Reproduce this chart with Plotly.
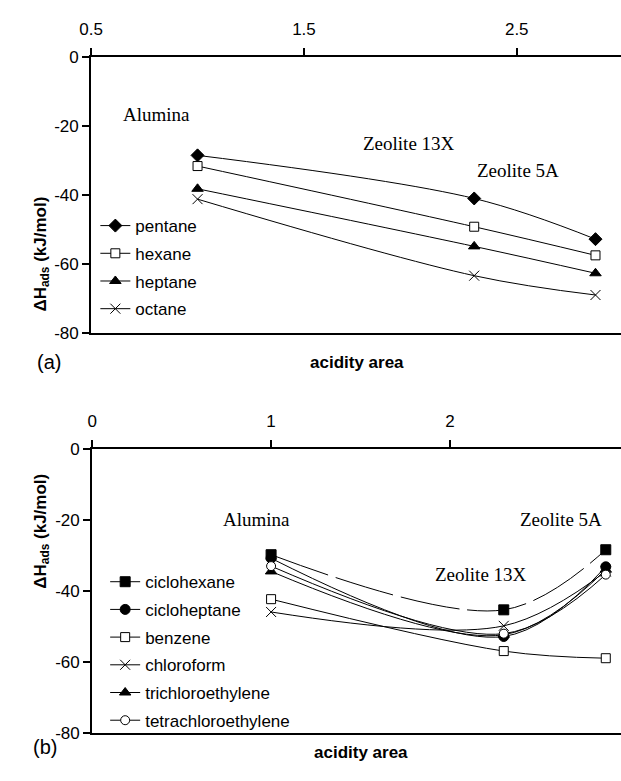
import plotly.graph_objects as go

W, H = 621, 781

# ---------------- data ----------------
sites = ["Alumina", "Zeolite 13X", "Zeolite 5A"]
acidity_a = [1.0, 2.30, 2.87]
acidity_b = [1.0, 2.30, 2.87]

names_a = ["pentane", "hexane", "heptane", "octane"]
pentane = [-28.5, -41.0, -52.8]
hexane = [-31.6, -49.2, -57.5]
heptane = [-38.2, -54.9, -62.7]
octane = [-41.2, -63.4, -69.0]

names_b = ["ciclohexane", "cicloheptane", "benzene", "chloroform",
           "trichloroethylene", "tetrachloroethylene"]
ciclohexane = [-29.8, -45.3, -28.4]
cicloheptane = [-30.8, -52.8, -33.2]
benzene = [-42.3, -56.9, -58.9]
chloroform = [-45.9, -49.8, -34.5]
trichloroethylene = [-34.5, -52.3, -34.0]
tetrachloroethylene = [-33.0, -52.0, -35.4]

y_ticks = [0, -20, -40, -60, -80]
y_ticktext = ["0", "-20", "-40", "-60", "-80"]
xa_ticks = [0.5, 1.5, 2.5]
xb_ticks = [0, 1, 2]

# ---------------- styles ----------------
SANS = "Liberation Sans, Arial, sans-serif"
SERIF = "Liberation Serif, Times New Roman, serif"

sty_a = {
    "pentane": dict(symbol="diamond", size=10, color="black"),
    "hexane": dict(symbol="square", size=9, color="white"),
    "heptane": dict(symbol="triangle-up", size=10, color="black"),
    "octane": dict(symbol="x-thin", size=10, color="black"),
}
sty_b = {
    "ciclohexane": dict(symbol="square", size=10, color="black"),
    "cicloheptane": dict(symbol="circle", size=10, color="black"),
    "benzene": dict(symbol="square", size=9, color="white"),
    "chloroform": dict(symbol="x-thin", size=10, color="black"),
    "trichloroethylene": dict(symbol="triangle-up", size=10, color="black"),
    "tetrachloroethylene": dict(symbol="circle", size=9, color="white"),
}

fig = go.Figure()

series_a = [pentane, hexane, heptane, octane]
for nm, ys in zip(names_a, series_a):
    s = sty_a[nm]
    fig.add_trace(go.Scatter(
        x=acidity_a, y=ys, name=nm, mode="lines+markers",
        xaxis="x", yaxis="y", legend="legend", legendgroup=nm,
        line=dict(color="black", width=1, shape="spline", smoothing=1),
        marker=dict(symbol=s["symbol"], size=s["size"], color=s["color"],
                    line=dict(color="black", width=1)),
        cliponaxis=False,
    ))

series_b = [ciclohexane, cicloheptane, benzene, chloroform,
            trichloroethylene, tetrachloroethylene]
for nm, ys in zip(names_b, series_b):
    s = sty_b[nm]
    dash = "60px,8px" if nm == "ciclohexane" else "solid"
    fig.add_trace(go.Scatter(
        x=acidity_b, y=ys, name=nm, mode="lines+markers",
        xaxis="x2", yaxis="y2", legend="legend2", legendgroup=nm,
        line=dict(color="black", width=1, shape="spline", smoothing=1, dash=dash),
        marker=dict(symbol=s["symbol"], size=s["size"], color=s["color"],
                    line=dict(color="black", width=1)),
        cliponaxis=False,
    ))


def px(x):
    return x / W


def py(y):
    return 1 - y / H


axis_common = dict(
    showgrid=False, zeroline=False, showline=True, linecolor="black",
    linewidth=2, ticks="outside", tickcolor="black", tickwidth=1.5,
    ticklen=7, tickfont=dict(family=SANS, size=17, color="black"),
)

fig.update_layout(
    width=W, height=H,
    margin=dict(l=0, r=0, t=0, b=0),
    paper_bgcolor="white", plot_bgcolor="white",
    xaxis=dict(axis_common, domain=[px(80.7), 1], range=[0.5, 0.5 + (W - 80.7) / 217.0],
               side="top", mirror=True, tickvals=xa_ticks,
               ticktext=[str(v) for v in xa_ticks], anchor="y",
               ticklabelstandoff=6),
    yaxis=dict(axis_common, domain=[py(332), py(49.3)], range=[-80, 0],
               tickvals=y_ticks, ticktext=y_ticktext, anchor="x"),
    xaxis2=dict(axis_common, domain=[px(81.7), 1], range=[0, (W - 81.7) / 182.5],
                side="top", mirror=True, tickvals=xb_ticks,
                ticktext=[str(v) for v in xb_ticks], anchor="y2",
                ticklabelstandoff=6),
    yaxis2=dict(axis_common, domain=[py(742.3), py(450.7)], range=[-80, 0],
                tickvals=y_ticks, ticktext=y_ticktext, anchor="x2"),
    legend=dict(x=px(85), y=py(204), xanchor="left", yanchor="top",
                bgcolor="rgba(0,0,0,0)", borderwidth=0, tracegroupgap=2.6,
                font=dict(family=SANS, size=17, color="black")),
    legend2=dict(x=px(95), y=py(569), xanchor="left", yanchor="top",
                 bgcolor="rgba(0,0,0,0)", borderwidth=0, tracegroupgap=2.6,
                 font=dict(family=SANS, size=17, color="black")),
    showlegend=True,
)

ann = []
# site labels (data coordinates)
site_pos_a = [(0.808, -16.6), (1.995, -25.1), (2.506, -33.0)]
site_pos_b = [(0.917, -19.8), (2.172, -35.4), (2.618, -19.8)]
for (sx, sy), t in zip(site_pos_a, sites):
    ann.append(dict(x=sx, y=sy, xref="x", yref="y", text=t, showarrow=False,
                    font=dict(family=SERIF, size=19, color="black")))
for (sx, sy), t in zip(site_pos_b, sites):
    ann.append(dict(x=sx, y=sy, xref="x2", yref="y2", text=t, showarrow=False,
                    font=dict(family=SERIF, size=19, color="black")))

ytitle = "<b>ΔH<sub>ads</sub> (kJ/mol)</b>"
for yc in (190, 596):
    ann.append(dict(x=px(17), y=py(yc), xref="paper", yref="paper", text=ytitle,
                    textangle=-90, showarrow=False,
                    font=dict(family=SANS, size=17, color="black")))
for xc, yc in ((351.5, 362.7), (356, 774)):
    ann.append(dict(x=px(xc), y=py(yc), xref="paper", yref="paper",
                    text="<b>acidity area</b>", showarrow=False,
                    font=dict(family=SANS, size=17, color="black")))
for t, xc, yc in (("(a)", 23.5, 362), ("(b)", 19, 770)):
    ann.append(dict(x=px(xc), y=py(yc), xref="paper", yref="paper", text=t,
                    showarrow=False, font=dict(family=SANS, size=20, color="black")))

fig.update_layout(annotations=ann)
fig.write_html("out.html")
